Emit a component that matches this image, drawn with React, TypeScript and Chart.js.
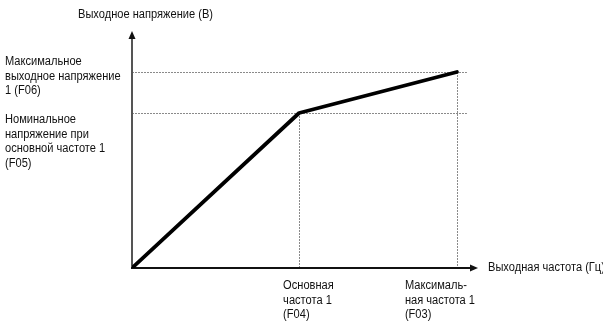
import React, { useEffect, useRef } from "react";
import { Chart, registerables } from "chart.js";

Chart.register(...registerables);

// Data (arbitrary units: frequency 0..100, voltage 0..100)
const frequencyPoints = [0, 48.3, 93.9];
const voltagePoints = [0, 65.4, 82.7];
const refLineEnd = 96.8;

const yAxisTitle = "Выходное напряжение (В)";
const xAxisTitle = "Выходная частота (Гц)";
const f06Label = ["Максимальное", "выходное напряжение", "1 (F06)"];
const f05Label = ["Номинальное", "напряжение при", "основной частоте 1", "(F05)"];
const f04Label = ["Основная", "частота 1", "(F04)"];
const f03Label = ["Максималь-", "ная частота 1", "(F03)"];

const FONT = "12px 'Liberation Sans', Arial, sans-serif";
const TITLE_WIDTH = 135;

const annotationPlugin = {
  id: "vfAnnotations",
  beforeDatasetsDraw(chart: any) {
    const ctx = chart.ctx;
    const xs = chart.scales.x;
    const ys = chart.scales.y;
    const ca = chart.chartArea;
    const ox = xs.getPixelForValue(0);
    const oy = ys.getPixelForValue(0);
    ctx.save();
    // dotted reference lines
    ctx.strokeStyle = "#8a8a8a";
    ctx.lineWidth = 1;
    ctx.setLineDash([2, 1]);
    const endX = xs.getPixelForValue(refLineEnd);
    [voltagePoints[1], voltagePoints[2]].forEach((v) => {
      const py = Math.round(ys.getPixelForValue(v)) + 0.5;
      ctx.beginPath();
      ctx.moveTo(ox, py);
      ctx.lineTo(endX, py);
      ctx.stroke();
    });
    [1, 2].forEach((i) => {
      const px = Math.round(xs.getPixelForValue(frequencyPoints[i])) + 0.5;
      ctx.beginPath();
      ctx.moveTo(px, ys.getPixelForValue(voltagePoints[i]));
      ctx.lineTo(px, oy);
      ctx.stroke();
    });
    ctx.setLineDash([]);
    // Y axis
    ctx.strokeStyle = "#555";
    ctx.lineWidth = 2;
    ctx.beginPath();
    ctx.moveTo(ox, oy);
    ctx.lineTo(ox, ca.top + 6);
    ctx.stroke();
    ctx.fillStyle = "#111";
    ctx.beginPath();
    ctx.moveTo(ox, ca.top);
    ctx.lineTo(ox - 3.5, ca.top + 8);
    ctx.lineTo(ox + 3.5, ca.top + 8);
    ctx.closePath();
    ctx.fill();
    // X axis
    ctx.strokeStyle = "#111";
    ctx.lineWidth = 2;
    ctx.beginPath();
    ctx.moveTo(ox - 1, oy);
    ctx.lineTo(ca.right - 6, oy);
    ctx.stroke();
    ctx.beginPath();
    ctx.moveTo(ca.right, oy);
    ctx.lineTo(ca.right - 8, oy - 3.5);
    ctx.lineTo(ca.right - 8, oy + 3.5);
    ctx.closePath();
    ctx.fill();

    // Texts (condensed horizontally)
    ctx.font = FONT;
    ctx.fillStyle = "#111";
    ctx.textBaseline = "middle";
    ctx.textAlign = "left";
    const sx = TITLE_WIDTH / ctx.measureText(yAxisTitle).width;
    const put = (t: string, x: number, y: number) => {
      ctx.save();
      ctx.translate(x, y);
      ctx.scale(sx, 1);
      ctx.fillText(t, 0, 0);
      ctx.restore();
    };
    put(yAxisTitle, ox - 54, 15);
    put(xAxisTitle, ca.right + 10, oy);
    const lh = 14.5;
    f06Label.forEach((t, i) => put(t, 5, 62 + i * lh));
    f05Label.forEach((t, i) => put(t, 5, 120 + i * lh));
    const f04x = xs.getPixelForValue(frequencyPoints[1]);
    const f03x = xs.getPixelForValue(frequencyPoints[2]);
    f04Label.forEach((t, i) => put(t, f04x - 16, oy + 18 + i * lh));
    f03Label.forEach((t, i) => put(t, f03x - 52, oy + 18 + i * lh));
    ctx.restore();
  },
};

export default function App() {
  const canvasRef = useRef<HTMLCanvasElement | null>(null);
  useEffect(() => {
    if (!canvasRef.current) return;
    const chart = new Chart(canvasRef.current, {
      type: "scatter",
      data: {
        datasets: [
          {
            data: frequencyPoints.map((f, i) => ({ x: f, y: voltagePoints[i] })),
            showLine: true,
            borderColor: "#000",
            borderWidth: 3.8,
            pointRadius: 0,
            borderJoinStyle: "round",
            borderCapStyle: "round",
            fill: false,
          } as any,
        ],
      },
      options: {
        animation: false,
        responsive: false,
        maintainAspectRatio: false,
        layout: { padding: { left: 132, right: 125, top: 31, bottom: 57 } },
        plugins: { legend: { display: false }, tooltip: { enabled: false } },
        scales: {
          x: { type: "linear", min: 0, max: 100, display: false },
          y: { type: "linear", min: 0, max: 100, display: false },
        },
      },
      plugins: [annotationPlugin],
    });
    return () => chart.destroy();
  }, []);
  return (
    <div style={{ position: "fixed", left: 0, top: 0, width: 603, height: 325, background: "#fff" }}>
      <canvas ref={canvasRef} width={603} height={325} style={{ width: 603, height: 325 }} />
    </div>
  );
}
